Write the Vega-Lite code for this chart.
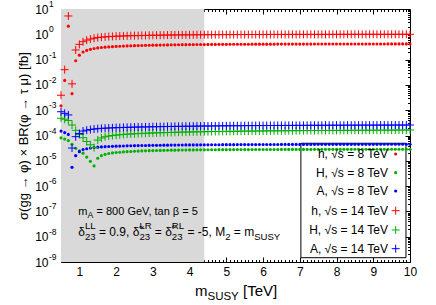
{
"$schema":"https://vega.github.io/schema/vega-lite/v6.json",
"width":349,"height":253,
"autosize":{"type":"none"},
"padding":{"left":61,"top":9,"right":26,"bottom":43},
"config":{"font":"Liberation Sans","view":{"stroke":"black","strokeWidth":1},
"axis":{"domain":false,"grid":false,"tickColor":"black","tickWidth":1,"labelColor":"black","labelFontSize":12,"labelFlush":false,"labelOverlap":false,"titleFontWeight":"normal","titleColor":"black"}},
"data":{"values":[{}]},
"datasets":{
"exps":[{"t":10,"e":"1"},{"t":1,"e":"0"},{"t":0.1,"e":"-1"},{"t":0.01,"e":"-2"},{"t":0.001,"e":"-3"},{"t":1e-4,"e":"-4"},{"t":1e-5,"e":"-5"},{"t":1e-6,"e":"-6"},{"t":1e-7,"e":"-7"},{"t":1e-8,"e":"-8"},{"t":1e-9,"e":"-9"}],
"d8":[
{"m":0.5,"s":"h8","v":0.0015},{"m":0.6,"s":"h8","v":0.015},{"m":0.7,"s":"h8","v":2.1},{"m":0.8,"s":"h8","v":0.0045},{"m":0.9,"s":"h8","v":0.09},{"m":1.0,"s":"h8","v":0.15},{"m":1.1,"s":"h8","v":0.2},{"m":1.2,"s":"h8","v":0.23},{"m":1.3,"s":"h8","v":0.255},{"m":1.4,"s":"h8","v":0.275},{"m":1.5,"s":"h8","v":0.29},{"m":1.6,"s":"h8","v":0.3},{"m":1.7,"s":"h8","v":0.31},{"m":1.8,"s":"h8","v":0.318},{"m":1.9,"s":"h8","v":0.325},{"m":2.0,"s":"h8","v":0.331},{"m":2.1,"s":"h8","v":0.337},{"m":2.2,"s":"h8","v":0.342},{"m":2.3,"s":"h8","v":0.347},{"m":2.4,"s":"h8","v":0.351},{"m":2.5,"s":"h8","v":0.355},{"m":2.6,"s":"h8","v":0.359},{"m":2.7,"s":"h8","v":0.362},{"m":2.8,"s":"h8","v":0.365},{"m":2.9,"s":"h8","v":0.368},{"m":3.0,"s":"h8","v":0.371},{"m":3.1,"s":"h8","v":0.373},{"m":3.2,"s":"h8","v":0.376},{"m":3.3,"s":"h8","v":0.378},{"m":3.4,"s":"h8","v":0.38},{"m":3.5,"s":"h8","v":0.382},{"m":3.6,"s":"h8","v":0.384},{"m":3.7,"s":"h8","v":0.386},{"m":3.8,"s":"h8","v":0.388},{"m":3.9,"s":"h8","v":0.389},{"m":4.0,"s":"h8","v":0.391},{"m":4.1,"s":"h8","v":0.392},{"m":4.2,"s":"h8","v":0.394},{"m":4.3,"s":"h8","v":0.395},{"m":4.4,"s":"h8","v":0.396},{"m":4.5,"s":"h8","v":0.397},{"m":4.6,"s":"h8","v":0.398},{"m":4.7,"s":"h8","v":0.399},{"m":4.8,"s":"h8","v":0.4},{"m":4.9,"s":"h8","v":0.401},{"m":5.0,"s":"h8","v":0.402},{"m":5.1,"s":"h8","v":0.403},{"m":5.2,"s":"h8","v":0.403},{"m":5.3,"s":"h8","v":0.404},{"m":5.4,"s":"h8","v":0.404},{"m":5.5,"s":"h8","v":0.405},{"m":5.6,"s":"h8","v":0.405},{"m":5.7,"s":"h8","v":0.406},{"m":5.8,"s":"h8","v":0.406},{"m":5.9,"s":"h8","v":0.407},{"m":6.0,"s":"h8","v":0.407},{"m":6.1,"s":"h8","v":0.408},{"m":6.2,"s":"h8","v":0.408},{"m":6.3,"s":"h8","v":0.408},{"m":6.4,"s":"h8","v":0.409},{"m":6.5,"s":"h8","v":0.409},{"m":6.6,"s":"h8","v":0.409},{"m":6.7,"s":"h8","v":0.41},{"m":6.8,"s":"h8","v":0.41},{"m":6.9,"s":"h8","v":0.41},{"m":7.0,"s":"h8","v":0.411},{"m":7.1,"s":"h8","v":0.411},{"m":7.2,"s":"h8","v":0.411},{"m":7.3,"s":"h8","v":0.411},{"m":7.4,"s":"h8","v":0.412},{"m":7.5,"s":"h8","v":0.412},{"m":7.6,"s":"h8","v":0.412},{"m":7.7,"s":"h8","v":0.412},{"m":7.8,"s":"h8","v":0.413},{"m":7.9,"s":"h8","v":0.413},{"m":8.0,"s":"h8","v":0.413},{"m":8.1,"s":"h8","v":0.413},{"m":8.2,"s":"h8","v":0.413},{"m":8.3,"s":"h8","v":0.414},{"m":8.4,"s":"h8","v":0.414},{"m":8.5,"s":"h8","v":0.414},{"m":8.6,"s":"h8","v":0.414},{"m":8.7,"s":"h8","v":0.414},{"m":8.8,"s":"h8","v":0.415},{"m":8.9,"s":"h8","v":0.415},{"m":9.0,"s":"h8","v":0.415},{"m":9.1,"s":"h8","v":0.415},{"m":9.2,"s":"h8","v":0.415},{"m":9.3,"s":"h8","v":0.415},{"m":9.4,"s":"h8","v":0.416},{"m":9.5,"s":"h8","v":0.416},{"m":9.6,"s":"h8","v":0.416},{"m":9.7,"s":"h8","v":0.416},{"m":9.8,"s":"h8","v":0.416},{"m":9.9,"s":"h8","v":0.416},{"m":10.0,"s":"h8","v":0.417},
{"m":0.5,"s":"H8","v":8.0e-5},{"m":0.6,"s":"H8","v":7.2e-5},{"m":0.7,"s":"H8","v":6.3e-5},{"m":0.8,"s":"H8","v":4.5e-5},{"m":0.9,"s":"H8","v":3.1e-5},{"m":1.0,"s":"H8","v":2.5e-5},{"m":1.1,"s":"H8","v":2.0e-5},{"m":1.2,"s":"H8","v":1.4e-5},{"m":1.3,"s":"H8","v":9.5e-6},{"m":1.4,"s":"H8","v":6.3e-6},{"m":1.5,"s":"H8","v":1.26e-5},{"m":1.6,"s":"H8","v":1.6e-5},{"m":1.7,"s":"H8","v":1.8e-5},{"m":1.8,"s":"H8","v":1.95e-5},{"m":1.9,"s":"H8","v":2.05e-5},{"m":2.0,"s":"H8","v":2.12e-5},{"m":2.1,"s":"H8","v":2.18e-5},{"m":2.2,"s":"H8","v":2.24e-5},{"m":2.3,"s":"H8","v":2.29e-5},{"m":2.4,"s":"H8","v":2.34e-5},{"m":2.5,"s":"H8","v":2.38e-5},{"m":2.6,"s":"H8","v":2.42e-5},{"m":2.7,"s":"H8","v":2.45e-5},{"m":2.8,"s":"H8","v":2.48e-5},{"m":2.9,"s":"H8","v":2.51e-5},{"m":3.0,"s":"H8","v":2.53e-5},{"m":3.1,"s":"H8","v":2.55e-5},{"m":3.2,"s":"H8","v":2.57e-5},{"m":3.3,"s":"H8","v":2.59e-5},{"m":3.4,"s":"H8","v":2.61e-5},{"m":3.5,"s":"H8","v":2.63e-5},{"m":3.6,"s":"H8","v":2.64e-5},{"m":3.7,"s":"H8","v":2.66e-5},{"m":3.8,"s":"H8","v":2.67e-5},{"m":3.9,"s":"H8","v":2.68e-5},{"m":4.0,"s":"H8","v":2.69e-5},{"m":4.1,"s":"H8","v":2.7e-5},{"m":4.2,"s":"H8","v":2.71e-5},{"m":4.3,"s":"H8","v":2.72e-5},{"m":4.4,"s":"H8","v":2.72e-5},{"m":4.5,"s":"H8","v":2.73e-5},{"m":4.6,"s":"H8","v":2.74e-5},{"m":4.7,"s":"H8","v":2.74e-5},{"m":4.8,"s":"H8","v":2.75e-5},{"m":4.9,"s":"H8","v":2.75e-5},{"m":5.0,"s":"H8","v":2.76e-5},{"m":5.1,"s":"H8","v":2.76e-5},{"m":5.2,"s":"H8","v":2.77e-5},{"m":5.3,"s":"H8","v":2.77e-5},{"m":5.4,"s":"H8","v":2.77e-5},{"m":5.5,"s":"H8","v":2.78e-5},{"m":5.6,"s":"H8","v":2.78e-5},{"m":5.7,"s":"H8","v":2.78e-5},{"m":5.8,"s":"H8","v":2.79e-5},{"m":5.9,"s":"H8","v":2.79e-5},{"m":6.0,"s":"H8","v":2.79e-5},{"m":6.1,"s":"H8","v":2.8e-5},{"m":6.2,"s":"H8","v":2.8e-5},{"m":6.3,"s":"H8","v":2.8e-5},{"m":6.4,"s":"H8","v":2.8e-5},{"m":6.5,"s":"H8","v":2.81e-5},{"m":6.6,"s":"H8","v":2.81e-5},{"m":6.7,"s":"H8","v":2.81e-5},{"m":6.8,"s":"H8","v":2.81e-5},{"m":6.9,"s":"H8","v":2.82e-5},{"m":7.0,"s":"H8","v":2.82e-5},{"m":7.1,"s":"H8","v":2.82e-5},{"m":7.2,"s":"H8","v":2.82e-5},{"m":7.3,"s":"H8","v":2.82e-5},{"m":7.4,"s":"H8","v":2.83e-5},{"m":7.5,"s":"H8","v":2.83e-5},{"m":7.6,"s":"H8","v":2.83e-5},{"m":7.7,"s":"H8","v":2.83e-5},{"m":7.8,"s":"H8","v":2.83e-5},{"m":7.9,"s":"H8","v":2.83e-5},{"m":8.0,"s":"H8","v":2.84e-5},{"m":8.1,"s":"H8","v":2.84e-5},{"m":8.2,"s":"H8","v":2.84e-5},{"m":8.3,"s":"H8","v":2.84e-5},{"m":8.4,"s":"H8","v":2.84e-5},{"m":8.5,"s":"H8","v":2.85e-5},{"m":8.6,"s":"H8","v":2.85e-5},{"m":8.7,"s":"H8","v":2.85e-5},{"m":8.8,"s":"H8","v":2.85e-5},{"m":8.9,"s":"H8","v":2.85e-5},{"m":9.0,"s":"H8","v":2.85e-5},{"m":9.1,"s":"H8","v":2.85e-5},{"m":9.2,"s":"H8","v":2.86e-5},{"m":9.3,"s":"H8","v":2.86e-5},{"m":9.4,"s":"H8","v":2.86e-5},{"m":9.5,"s":"H8","v":2.86e-5},{"m":9.6,"s":"H8","v":2.86e-5},{"m":9.7,"s":"H8","v":2.86e-5},{"m":9.8,"s":"H8","v":2.86e-5},{"m":9.9,"s":"H8","v":2.86e-5},{"m":10.0,"s":"H8","v":2.87e-5},
{"m":0.5,"s":"A8","v":1.5e-4},{"m":0.6,"s":"A8","v":1.3e-4},{"m":0.7,"s":"A8","v":1.1e-4},{"m":0.8,"s":"A8","v":5.5e-6},{"m":0.9,"s":"A8","v":1.6e-5},{"m":1.0,"s":"A8","v":2.3e-5},{"m":1.1,"s":"A8","v":2.8e-5},{"m":1.2,"s":"A8","v":3.0e-5},{"m":1.3,"s":"A8","v":3.2e-5},{"m":1.4,"s":"A8","v":3.35e-5},{"m":1.5,"s":"A8","v":3.45e-5},{"m":1.6,"s":"A8","v":3.55e-5},{"m":1.7,"s":"A8","v":3.62e-5},{"m":1.8,"s":"A8","v":3.68e-5},{"m":1.9,"s":"A8","v":3.73e-5},{"m":2.0,"s":"A8","v":3.78e-5},{"m":2.1,"s":"A8","v":3.82e-5},{"m":2.2,"s":"A8","v":3.86e-5},{"m":2.3,"s":"A8","v":3.9e-5},{"m":2.4,"s":"A8","v":3.93e-5},{"m":2.5,"s":"A8","v":3.96e-5},{"m":2.6,"s":"A8","v":3.99e-5},{"m":2.7,"s":"A8","v":4.02e-5},{"m":2.8,"s":"A8","v":4.04e-5},{"m":2.9,"s":"A8","v":4.06e-5},{"m":3.0,"s":"A8","v":4.08e-5},{"m":3.1,"s":"A8","v":4.1e-5},{"m":3.2,"s":"A8","v":4.12e-5},{"m":3.3,"s":"A8","v":4.14e-5},{"m":3.4,"s":"A8","v":4.16e-5},{"m":3.5,"s":"A8","v":4.17e-5},{"m":3.6,"s":"A8","v":4.19e-5},{"m":3.7,"s":"A8","v":4.2e-5},{"m":3.8,"s":"A8","v":4.22e-5},{"m":3.9,"s":"A8","v":4.23e-5},{"m":4.0,"s":"A8","v":4.24e-5},{"m":4.1,"s":"A8","v":4.25e-5},{"m":4.2,"s":"A8","v":4.26e-5},{"m":4.3,"s":"A8","v":4.27e-5},{"m":4.4,"s":"A8","v":4.28e-5},{"m":4.5,"s":"A8","v":4.29e-5},{"m":4.6,"s":"A8","v":4.3e-5},{"m":4.7,"s":"A8","v":4.31e-5},{"m":4.8,"s":"A8","v":4.32e-5},{"m":4.9,"s":"A8","v":4.33e-5},{"m":5.0,"s":"A8","v":4.34e-5},{"m":5.1,"s":"A8","v":4.35e-5},{"m":5.2,"s":"A8","v":4.35e-5},{"m":5.3,"s":"A8","v":4.36e-5},{"m":5.4,"s":"A8","v":4.37e-5},{"m":5.5,"s":"A8","v":4.37e-5},{"m":5.6,"s":"A8","v":4.38e-5},{"m":5.7,"s":"A8","v":4.39e-5},{"m":5.8,"s":"A8","v":4.39e-5},{"m":5.9,"s":"A8","v":4.4e-5},{"m":6.0,"s":"A8","v":4.4e-5},{"m":6.1,"s":"A8","v":4.41e-5},{"m":6.2,"s":"A8","v":4.41e-5},{"m":6.3,"s":"A8","v":4.42e-5},{"m":6.4,"s":"A8","v":4.42e-5},{"m":6.5,"s":"A8","v":4.43e-5},{"m":6.6,"s":"A8","v":4.43e-5},{"m":6.7,"s":"A8","v":4.43e-5},{"m":6.8,"s":"A8","v":4.44e-5},{"m":6.9,"s":"A8","v":4.44e-5},{"m":7.0,"s":"A8","v":4.44e-5},{"m":7.1,"s":"A8","v":4.45e-5},{"m":7.2,"s":"A8","v":4.45e-5},{"m":7.3,"s":"A8","v":4.45e-5},{"m":7.4,"s":"A8","v":4.46e-5},{"m":7.5,"s":"A8","v":4.46e-5},{"m":7.6,"s":"A8","v":4.46e-5},{"m":7.7,"s":"A8","v":4.46e-5},{"m":7.8,"s":"A8","v":4.47e-5},{"m":7.9,"s":"A8","v":4.47e-5},{"m":8.0,"s":"A8","v":4.47e-5},{"m":8.1,"s":"A8","v":4.47e-5},{"m":8.2,"s":"A8","v":4.48e-5},{"m":8.3,"s":"A8","v":4.48e-5},{"m":8.4,"s":"A8","v":4.48e-5},{"m":8.5,"s":"A8","v":4.48e-5},{"m":8.6,"s":"A8","v":4.48e-5},{"m":8.7,"s":"A8","v":4.49e-5},{"m":8.8,"s":"A8","v":4.49e-5},{"m":8.9,"s":"A8","v":4.49e-5},{"m":9.0,"s":"A8","v":4.49e-5},{"m":9.1,"s":"A8","v":4.49e-5},{"m":9.2,"s":"A8","v":4.5e-5},{"m":9.3,"s":"A8","v":4.5e-5},{"m":9.4,"s":"A8","v":4.5e-5},{"m":9.5,"s":"A8","v":4.5e-5},{"m":9.6,"s":"A8","v":4.5e-5},{"m":9.7,"s":"A8","v":4.5e-5},{"m":9.8,"s":"A8","v":4.51e-5},{"m":9.9,"s":"A8","v":4.51e-5},{"m":10.0,"s":"A8","v":4.51e-5}
],
"d14":[
{"m":0.5,"s":"h14","v":0.0039},{"m":0.6,"s":"h14","v":0.04},{"m":0.7,"s":"h14","v":5.3},{"m":0.8,"s":"h14","v":0.011},{"m":0.9,"s":"h14","v":0.24},{"m":1.0,"s":"h14","v":0.4},{"m":1.1,"s":"h14","v":0.51},{"m":1.2,"s":"h14","v":0.59},{"m":1.3,"s":"h14","v":0.65},{"m":1.4,"s":"h14","v":0.7},{"m":1.5,"s":"h14","v":0.74},{"m":1.6,"s":"h14","v":0.77},{"m":1.7,"s":"h14","v":0.79},{"m":1.8,"s":"h14","v":0.81},{"m":1.9,"s":"h14","v":0.825},{"m":2.0,"s":"h14","v":0.84},{"m":2.1,"s":"h14","v":0.85},{"m":2.2,"s":"h14","v":0.86},{"m":2.3,"s":"h14","v":0.87},{"m":2.4,"s":"h14","v":0.88},{"m":2.5,"s":"h14","v":0.885},{"m":2.6,"s":"h14","v":0.89},{"m":2.7,"s":"h14","v":0.9},{"m":2.8,"s":"h14","v":0.905},{"m":2.9,"s":"h14","v":0.91},{"m":3.0,"s":"h14","v":0.915},{"m":3.1,"s":"h14","v":0.92},{"m":3.2,"s":"h14","v":0.925},{"m":3.3,"s":"h14","v":0.93},{"m":3.4,"s":"h14","v":0.935},{"m":3.5,"s":"h14","v":0.94},{"m":3.6,"s":"h14","v":0.943},{"m":3.7,"s":"h14","v":0.946},{"m":3.8,"s":"h14","v":0.949},{"m":3.9,"s":"h14","v":0.952},{"m":4.0,"s":"h14","v":0.955},{"m":4.1,"s":"h14","v":0.957},{"m":4.2,"s":"h14","v":0.959},{"m":4.3,"s":"h14","v":0.961},{"m":4.4,"s":"h14","v":0.963},{"m":4.5,"s":"h14","v":0.965},{"m":4.6,"s":"h14","v":0.967},{"m":4.7,"s":"h14","v":0.969},{"m":4.8,"s":"h14","v":0.971},{"m":4.9,"s":"h14","v":0.972},{"m":5.0,"s":"h14","v":0.974},{"m":5.1,"s":"h14","v":0.975},{"m":5.2,"s":"h14","v":0.976},{"m":5.3,"s":"h14","v":0.977},{"m":5.4,"s":"h14","v":0.978},{"m":5.5,"s":"h14","v":0.979},{"m":5.6,"s":"h14","v":0.98},{"m":5.7,"s":"h14","v":0.981},{"m":5.8,"s":"h14","v":0.982},{"m":5.9,"s":"h14","v":0.983},{"m":6.0,"s":"h14","v":0.984},{"m":6.1,"s":"h14","v":0.985},{"m":6.2,"s":"h14","v":0.986},{"m":6.3,"s":"h14","v":0.986},{"m":6.4,"s":"h14","v":0.987},{"m":6.5,"s":"h14","v":0.988},{"m":6.6,"s":"h14","v":0.988},{"m":6.7,"s":"h14","v":0.989},{"m":6.8,"s":"h14","v":0.99},{"m":6.9,"s":"h14","v":0.99},{"m":7.0,"s":"h14","v":0.991},{"m":7.1,"s":"h14","v":0.991},{"m":7.2,"s":"h14","v":0.992},{"m":7.3,"s":"h14","v":0.992},{"m":7.4,"s":"h14","v":0.993},{"m":7.5,"s":"h14","v":0.993},{"m":7.6,"s":"h14","v":0.994},{"m":7.7,"s":"h14","v":0.994},{"m":7.8,"s":"h14","v":0.995},{"m":7.9,"s":"h14","v":0.995},{"m":8.0,"s":"h14","v":0.996},{"m":8.1,"s":"h14","v":0.996},{"m":8.2,"s":"h14","v":0.996},{"m":8.3,"s":"h14","v":0.997},{"m":8.4,"s":"h14","v":0.997},{"m":8.5,"s":"h14","v":0.997},{"m":8.6,"s":"h14","v":0.998},{"m":8.7,"s":"h14","v":0.998},{"m":8.8,"s":"h14","v":0.998},{"m":8.9,"s":"h14","v":0.999},{"m":9.0,"s":"h14","v":0.999},{"m":9.1,"s":"h14","v":0.999},{"m":9.2,"s":"h14","v":1.0},{"m":9.3,"s":"h14","v":1.0},{"m":9.4,"s":"h14","v":1.0},{"m":9.5,"s":"h14","v":1.0},{"m":9.6,"s":"h14","v":1.001},{"m":9.7,"s":"h14","v":1.001},{"m":9.8,"s":"h14","v":1.001},{"m":9.9,"s":"h14","v":1.002},{"m":10.0,"s":"h14","v":1.002},
{"m":0.5,"s":"H14","v":4.8e-4},{"m":0.6,"s":"H14","v":4.4e-4},{"m":0.7,"s":"H14","v":3.9e-4},{"m":0.8,"s":"H14","v":2.6e-4},{"m":0.9,"s":"H14","v":1.6e-4},{"m":1.0,"s":"H14","v":1.1e-4},{"m":1.1,"s":"H14","v":8.2e-5},{"m":1.2,"s":"H14","v":5.8e-5},{"m":1.3,"s":"H14","v":4.3e-5},{"m":1.4,"s":"H14","v":3.3e-5},{"m":1.5,"s":"H14","v":6.6e-5},{"m":1.6,"s":"H14","v":8.0e-5},{"m":1.7,"s":"H14","v":8.9e-5},{"m":1.8,"s":"H14","v":9.5e-5},{"m":1.9,"s":"H14","v":1.0e-4},{"m":2.0,"s":"H14","v":1.04e-4},{"m":2.1,"s":"H14","v":1.07e-4},{"m":2.2,"s":"H14","v":1.1e-4},{"m":2.3,"s":"H14","v":1.13e-4},{"m":2.4,"s":"H14","v":1.15e-4},{"m":2.5,"s":"H14","v":1.17e-4},{"m":2.6,"s":"H14","v":1.19e-4},{"m":2.7,"s":"H14","v":1.21e-4},{"m":2.8,"s":"H14","v":1.23e-4},{"m":2.9,"s":"H14","v":1.24e-4},{"m":3.0,"s":"H14","v":1.26e-4},{"m":3.1,"s":"H14","v":1.27e-4},{"m":3.2,"s":"H14","v":1.29e-4},{"m":3.3,"s":"H14","v":1.3e-4},{"m":3.4,"s":"H14","v":1.31e-4},{"m":3.5,"s":"H14","v":1.32e-4},{"m":3.6,"s":"H14","v":1.34e-4},{"m":3.7,"s":"H14","v":1.35e-4},{"m":3.8,"s":"H14","v":1.36e-4},{"m":3.9,"s":"H14","v":1.37e-4},{"m":4.0,"s":"H14","v":1.38e-4},{"m":4.1,"s":"H14","v":1.39e-4},{"m":4.2,"s":"H14","v":1.4e-4},{"m":4.3,"s":"H14","v":1.41e-4},{"m":4.4,"s":"H14","v":1.41e-4},{"m":4.5,"s":"H14","v":1.42e-4},{"m":4.6,"s":"H14","v":1.43e-4},{"m":4.7,"s":"H14","v":1.44e-4},{"m":4.8,"s":"H14","v":1.44e-4},{"m":4.9,"s":"H14","v":1.45e-4},{"m":5.0,"s":"H14","v":1.46e-4},{"m":5.1,"s":"H14","v":1.46e-4},{"m":5.2,"s":"H14","v":1.47e-4},{"m":5.3,"s":"H14","v":1.48e-4},{"m":5.4,"s":"H14","v":1.48e-4},{"m":5.5,"s":"H14","v":1.49e-4},{"m":5.6,"s":"H14","v":1.49e-4},{"m":5.7,"s":"H14","v":1.5e-4},{"m":5.8,"s":"H14","v":1.5e-4},{"m":5.9,"s":"H14","v":1.51e-4},{"m":6.0,"s":"H14","v":1.51e-4},{"m":6.1,"s":"H14","v":1.52e-4},{"m":6.2,"s":"H14","v":1.52e-4},{"m":6.3,"s":"H14","v":1.53e-4},{"m":6.4,"s":"H14","v":1.53e-4},{"m":6.5,"s":"H14","v":1.54e-4},{"m":6.6,"s":"H14","v":1.54e-4},{"m":6.7,"s":"H14","v":1.55e-4},{"m":6.8,"s":"H14","v":1.55e-4},{"m":6.9,"s":"H14","v":1.55e-4},{"m":7.0,"s":"H14","v":1.56e-4},{"m":7.1,"s":"H14","v":1.56e-4},{"m":7.2,"s":"H14","v":1.57e-4},{"m":7.3,"s":"H14","v":1.57e-4},{"m":7.4,"s":"H14","v":1.57e-4},{"m":7.5,"s":"H14","v":1.58e-4},{"m":7.6,"s":"H14","v":1.58e-4},{"m":7.7,"s":"H14","v":1.58e-4},{"m":7.8,"s":"H14","v":1.59e-4},{"m":7.9,"s":"H14","v":1.59e-4},{"m":8.0,"s":"H14","v":1.59e-4},{"m":8.1,"s":"H14","v":1.6e-4},{"m":8.2,"s":"H14","v":1.6e-4},{"m":8.3,"s":"H14","v":1.6e-4},{"m":8.4,"s":"H14","v":1.61e-4},{"m":8.5,"s":"H14","v":1.61e-4},{"m":8.6,"s":"H14","v":1.61e-4},{"m":8.7,"s":"H14","v":1.61e-4},{"m":8.8,"s":"H14","v":1.62e-4},{"m":8.9,"s":"H14","v":1.62e-4},{"m":9.0,"s":"H14","v":1.62e-4},{"m":9.1,"s":"H14","v":1.62e-4},{"m":9.2,"s":"H14","v":1.63e-4},{"m":9.3,"s":"H14","v":1.63e-4},{"m":9.4,"s":"H14","v":1.63e-4},{"m":9.5,"s":"H14","v":1.63e-4},{"m":9.6,"s":"H14","v":1.64e-4},{"m":9.7,"s":"H14","v":1.64e-4},{"m":9.8,"s":"H14","v":1.64e-4},{"m":9.9,"s":"H14","v":1.64e-4},{"m":10.0,"s":"H14","v":1.65e-4},
{"m":0.5,"s":"A14","v":8.7e-4},{"m":0.6,"s":"A14","v":7.5e-4},{"m":0.7,"s":"A14","v":6.5e-4},{"m":0.8,"s":"A14","v":3.2e-5},{"m":0.9,"s":"A14","v":9.0e-5},{"m":1.0,"s":"A14","v":1.2e-4},{"m":1.1,"s":"A14","v":1.5e-4},{"m":1.2,"s":"A14","v":1.62e-4},{"m":1.3,"s":"A14","v":1.72e-4},{"m":1.4,"s":"A14","v":1.8e-4},{"m":1.5,"s":"A14","v":1.86e-4},{"m":1.6,"s":"A14","v":1.91e-4},{"m":1.7,"s":"A14","v":1.95e-4},{"m":1.8,"s":"A14","v":1.98e-4},{"m":1.9,"s":"A14","v":2.01e-4},{"m":2.0,"s":"A14","v":2.04e-4},{"m":2.1,"s":"A14","v":2.06e-4},{"m":2.2,"s":"A14","v":2.08e-4},{"m":2.3,"s":"A14","v":2.1e-4},{"m":2.4,"s":"A14","v":2.12e-4},{"m":2.5,"s":"A14","v":2.14e-4},{"m":2.6,"s":"A14","v":2.16e-4},{"m":2.7,"s":"A14","v":2.17e-4},{"m":2.8,"s":"A14","v":2.19e-4},{"m":2.9,"s":"A14","v":2.2e-4},{"m":3.0,"s":"A14","v":2.22e-4},{"m":3.1,"s":"A14","v":2.23e-4},{"m":3.2,"s":"A14","v":2.24e-4},{"m":3.3,"s":"A14","v":2.25e-4},{"m":3.4,"s":"A14","v":2.27e-4},{"m":3.5,"s":"A14","v":2.28e-4},{"m":3.6,"s":"A14","v":2.29e-4},{"m":3.7,"s":"A14","v":2.3e-4},{"m":3.8,"s":"A14","v":2.31e-4},{"m":3.9,"s":"A14","v":2.32e-4},{"m":4.0,"s":"A14","v":2.33e-4},{"m":4.1,"s":"A14","v":2.34e-4},{"m":4.2,"s":"A14","v":2.35e-4},{"m":4.3,"s":"A14","v":2.36e-4},{"m":4.4,"s":"A14","v":2.37e-4},{"m":4.5,"s":"A14","v":2.38e-4},{"m":4.6,"s":"A14","v":2.38e-4},{"m":4.7,"s":"A14","v":2.39e-4},{"m":4.8,"s":"A14","v":2.4e-4},{"m":4.9,"s":"A14","v":2.41e-4},{"m":5.0,"s":"A14","v":2.41e-4},{"m":5.1,"s":"A14","v":2.42e-4},{"m":5.2,"s":"A14","v":2.43e-4},{"m":5.3,"s":"A14","v":2.43e-4},{"m":5.4,"s":"A14","v":2.44e-4},{"m":5.5,"s":"A14","v":2.45e-4},{"m":5.6,"s":"A14","v":2.45e-4},{"m":5.7,"s":"A14","v":2.46e-4},{"m":5.8,"s":"A14","v":2.46e-4},{"m":5.9,"s":"A14","v":2.47e-4},{"m":6.0,"s":"A14","v":2.47e-4},{"m":6.1,"s":"A14","v":2.48e-4},{"m":6.2,"s":"A14","v":2.48e-4},{"m":6.3,"s":"A14","v":2.49e-4},{"m":6.4,"s":"A14","v":2.49e-4},{"m":6.5,"s":"A14","v":2.5e-4},{"m":6.6,"s":"A14","v":2.5e-4},{"m":6.7,"s":"A14","v":2.5e-4},{"m":6.8,"s":"A14","v":2.51e-4},{"m":6.9,"s":"A14","v":2.51e-4},{"m":7.0,"s":"A14","v":2.52e-4},{"m":7.1,"s":"A14","v":2.52e-4},{"m":7.2,"s":"A14","v":2.52e-4},{"m":7.3,"s":"A14","v":2.53e-4},{"m":7.4,"s":"A14","v":2.53e-4},{"m":7.5,"s":"A14","v":2.53e-4},{"m":7.6,"s":"A14","v":2.54e-4},{"m":7.7,"s":"A14","v":2.54e-4},{"m":7.8,"s":"A14","v":2.54e-4},{"m":7.9,"s":"A14","v":2.55e-4},{"m":8.0,"s":"A14","v":2.55e-4},{"m":8.1,"s":"A14","v":2.55e-4},{"m":8.2,"s":"A14","v":2.55e-4},{"m":8.3,"s":"A14","v":2.56e-4},{"m":8.4,"s":"A14","v":2.56e-4},{"m":8.5,"s":"A14","v":2.56e-4},{"m":8.6,"s":"A14","v":2.56e-4},{"m":8.7,"s":"A14","v":2.57e-4},{"m":8.8,"s":"A14","v":2.57e-4},{"m":8.9,"s":"A14","v":2.57e-4},{"m":9.0,"s":"A14","v":2.57e-4},{"m":9.1,"s":"A14","v":2.58e-4},{"m":9.2,"s":"A14","v":2.58e-4},{"m":9.3,"s":"A14","v":2.58e-4},{"m":9.4,"s":"A14","v":2.58e-4},{"m":9.5,"s":"A14","v":2.58e-4},{"m":9.6,"s":"A14","v":2.59e-4},{"m":9.7,"s":"A14","v":2.59e-4},{"m":9.8,"s":"A14","v":2.59e-4},{"m":9.9,"s":"A14","v":2.59e-4},{"m":10.0,"s":"A14","v":2.6e-4}
]
},
"layer":[
{"mark":{"type":"rect","color":"#d9d9d9"},
 "encoding":{
  "x":{"datum":0.5,"type":"quantitative","scale":{"domain":[0.5,10],"nice":false,"zero":false},"axis":{"orient":"bottom","values":[1,2,3,4,5,6,7,8,9,10],"tickSize":-5,"labelPadding":9,"title":null}},
  "x2":{"datum":4.4},
  "y":{"datum":1e-9,"type":"quantitative","scale":{"type":"log","domain":[1e-9,10],"nice":false},"axis":{"orient":"left","values":[1e-9,1e-8,1e-7,1e-6,1e-5,1e-4,0.001,0.01,0.1,1,10],"tickSize":-5,"labelExpr":"'10'","labelPadding":18,"title":"σ(gg → φ) × BR(φ → τ μ) [fb]","titleFontSize":13,"titleX":-38,"titleY":126.5,"titleAngle":-90,"titleAlign":"center","titleBaseline":"middle"}},
  "y2":{"datum":10}}},
{"mark":{"type":"rect","fill":"white","stroke":"black","strokeWidth":1},
 "encoding":{
  "x":{"datum":7.03,"type":"quantitative","axis":{"orient":"bottom","values":[0.6,0.7,0.8,0.9,1.1,1.2,1.3,1.4,1.5,1.6,1.7,1.8,1.9,2.1,2.2,2.3,2.4,2.5,2.6,2.7,2.8,2.9,3.1,3.2,3.3,3.4,3.5,3.6,3.7,3.8,3.9,4.1,4.2,4.3,4.4,4.5,4.6,4.7,4.8,4.9,5.1,5.2,5.3,5.4,5.5,5.6,5.7,5.8,5.9,6.1,6.2,6.3,6.4,6.5,6.6,6.7,6.8,6.9,7.1,7.2,7.3,7.4,7.5,7.6,7.7,7.8,7.9,8.1,8.2,8.3,8.4,8.5,8.6,8.7,8.8,8.9,9.1,9.2,9.3,9.4,9.5,9.6,9.7,9.8,9.9],"tickSize":-2.5,"labels":false,"title":null}},
  "x2":{"datum":9.89},
  "y":{"datum":1.48e-9,"type":"quantitative","axis":{"orient":"left","values":[2e-9,3e-9,4e-9,5e-9,6e-9,7e-9,8e-9,9e-9,2e-8,3e-8,4e-8,5e-8,6e-8,7e-8,8e-8,9e-8,2e-7,3e-7,4e-7,5e-7,6e-7,7e-7,8e-7,9e-7,2e-6,3e-6,4e-6,5e-6,6e-6,7e-6,8e-6,9e-6,2e-5,3e-5,4e-5,5e-5,6e-5,7e-5,8e-5,9e-5,2e-4,3e-4,4e-4,5e-4,6e-4,7e-4,8e-4,9e-4,0.002,0.003,0.004,0.005,0.006,0.007,0.008,0.009,0.02,0.03,0.04,0.05,0.06,0.07,0.08,0.09,0.2,0.3,0.4,0.5,0.6,0.7,0.8,0.9,2,3,4,5,6,7,8,9],"tickSize":-2.5,"labels":false,"title":null}},
  "y2":{"datum":4.92e-5}}},
{"data":{"name":"d8"},
 "mark":{"type":"point","shape":"circle","filled":true,"size":10,"opacity":1},
 "encoding":{
  "x":{"field":"m","type":"quantitative","axis":{"orient":"top","values":[1,2,3,4,5,6,7,8,9],"tickSize":-5,"labels":false,"title":null}},
  "y":{"field":"v","type":"quantitative","axis":{"orient":"right","values":[1e-8,1e-7,1e-6,1e-5,1e-4,0.001,0.01,0.1,1],"tickSize":-5,"labels":false,"title":null}},
  "color":{"field":"s","type":"nominal","scale":{"domain":["h8","H8","A8","h14","H14","A14"],"range":["#ff0000","#00b000","#0000ff","#ff0000","#00b000","#0000ff"]},"legend":null}}},
{"data":{"name":"d14"},
 "mark":{"type":"point","shape":"M-1,0L1,0M0,-1L0,1","filled":false,"size":64,"strokeWidth":1,"opacity":1},
 "encoding":{
  "x":{"field":"m","type":"quantitative","axis":{"orient":"top","values":[0.6,0.7,0.8,0.9,1.1,1.2,1.3,1.4,1.5,1.6,1.7,1.8,1.9,2.1,2.2,2.3,2.4,2.5,2.6,2.7,2.8,2.9,3.1,3.2,3.3,3.4,3.5,3.6,3.7,3.8,3.9,4.1,4.2,4.3,4.4,4.5,4.6,4.7,4.8,4.9,5.1,5.2,5.3,5.4,5.5,5.6,5.7,5.8,5.9,6.1,6.2,6.3,6.4,6.5,6.6,6.7,6.8,6.9,7.1,7.2,7.3,7.4,7.5,7.6,7.7,7.8,7.9,8.1,8.2,8.3,8.4,8.5,8.6,8.7,8.8,8.9,9.1,9.2,9.3,9.4,9.5,9.6,9.7,9.8,9.9],"tickSize":-2.5,"labels":false,"title":null}},
  "y":{"field":"v","type":"quantitative","axis":{"orient":"right","values":[2e-9,3e-9,4e-9,5e-9,6e-9,7e-9,8e-9,9e-9,2e-8,3e-8,4e-8,5e-8,6e-8,7e-8,8e-8,9e-8,2e-7,3e-7,4e-7,5e-7,6e-7,7e-7,8e-7,9e-7,2e-6,3e-6,4e-6,5e-6,6e-6,7e-6,8e-6,9e-6,2e-5,3e-5,4e-5,5e-5,6e-5,7e-5,8e-5,9e-5,2e-4,3e-4,4e-4,5e-4,6e-4,7e-4,8e-4,9e-4,0.002,0.003,0.004,0.005,0.006,0.007,0.008,0.009,0.02,0.03,0.04,0.05,0.06,0.07,0.08,0.09,0.2,0.3,0.4,0.5,0.6,0.7,0.8,0.9,2,3,4,5,6,7,8,9],"tickSize":-2.5,"labels":false,"title":null}},
  "color":{"field":"s","type":"nominal","legend":null}}},
{"data":{"name":"exps"},
 "mark":{"type":"text","align":"left","baseline":"middle","dx":-12,"dy":-5,"fontSize":8.5,"color":"black"},
 "encoding":{"x":{"datum":0.5,"axis":null},"y":{"field":"t","type":"quantitative","axis":null},"text":{"field":"e"}}},
{"mark":{"type":"text","text":"h, √s = 8 TeV","align":"right","baseline":"middle","fontSize":12,"color":"black"},"encoding":{"x":{"datum":9.4,"axis":null},"y":{"datum":1.86e-5,"axis":null}}},
{"mark":{"type":"text","text":"H, √s = 8 TeV","align":"right","baseline":"middle","fontSize":12,"color":"black"},"encoding":{"x":{"datum":9.4,"axis":null},"y":{"datum":3.39e-6,"axis":null}}},
{"mark":{"type":"text","text":"A, √s = 8 TeV","align":"right","baseline":"middle","fontSize":12,"color":"black"},"encoding":{"x":{"datum":9.4,"axis":null},"y":{"datum":6.4e-7,"axis":null}}},
{"mark":{"type":"text","text":"h, √s = 14 TeV","align":"right","baseline":"middle","fontSize":12,"color":"black"},"encoding":{"x":{"datum":9.4,"axis":null},"y":{"datum":1.07e-7,"axis":null}}},
{"mark":{"type":"text","text":"H, √s = 14 TeV","align":"right","baseline":"middle","fontSize":12,"color":"black"},"encoding":{"x":{"datum":9.4,"axis":null},"y":{"datum":1.84e-8,"axis":null}}},
{"mark":{"type":"text","text":"A, √s = 14 TeV","align":"right","baseline":"middle","fontSize":12,"color":"black"},"encoding":{"x":{"datum":9.4,"axis":null},"y":{"datum":3.36e-9,"axis":null}}},
{"mark":{"type":"point","shape":"circle","filled":true,"size":10,"opacity":1,"color":"#ff0000"},"encoding":{"x":{"datum":9.61,"axis":null},"y":{"datum":1.86e-5,"axis":null}}},
{"mark":{"type":"point","shape":"circle","filled":true,"size":10,"opacity":1,"color":"#00b000"},"encoding":{"x":{"datum":9.61,"axis":null},"y":{"datum":3.39e-6,"axis":null}}},
{"mark":{"type":"point","shape":"circle","filled":true,"size":10,"opacity":1,"color":"#0000ff"},"encoding":{"x":{"datum":9.61,"axis":null},"y":{"datum":6.4e-7,"axis":null}}},
{"mark":{"type":"point","shape":"M-1,0L1,0M0,-1L0,1","filled":false,"size":64,"strokeWidth":1,"opacity":1,"color":"#ff0000"},"encoding":{"x":{"datum":9.61,"axis":null},"y":{"datum":1.07e-7,"axis":null}}},
{"mark":{"type":"point","shape":"M-1,0L1,0M0,-1L0,1","filled":false,"size":64,"strokeWidth":1,"opacity":1,"color":"#00b000"},"encoding":{"x":{"datum":9.61,"axis":null},"y":{"datum":1.84e-8,"axis":null}}},
{"mark":{"type":"point","shape":"M-1,0L1,0M0,-1L0,1","filled":false,"size":64,"strokeWidth":1,"opacity":1,"color":"#0000ff"},"encoding":{"x":{"datum":9.61,"axis":null},"y":{"datum":3.36e-9,"axis":null}}},
{"mark":{"type":"text","text":"m","align":"left","baseline":"alphabetic","fontSize":11,"color":"black"},"encoding":{"x":{"datum":0.971,"axis":null},"y":{"datum":7.21e-8,"axis":null}}},
{"mark":{"type":"text","text":"A","align":"left","baseline":"alphabetic","fontSize":8.8,"dy":3,"color":"black"},"encoding":{"x":{"datum":1.221,"axis":null},"y":{"datum":7.21e-8,"axis":null}}},
{"mark":{"type":"text","text":"= 800 GeV, tan β = 5","align":"left","baseline":"alphabetic","fontSize":11,"color":"black"},"encoding":{"x":{"datum":1.466,"axis":null},"y":{"datum":7.21e-8,"axis":null}}},
{"mark":{"type":"text","text":"δ","align":"left","baseline":"alphabetic","fontSize":12,"color":"black"},"encoding":{"x":{"datum":0.971,"axis":null},"y":{"datum":1.067e-8,"axis":null}}},
{"mark":{"type":"text","text":"23","align":"left","baseline":"alphabetic","fontSize":9.6,"dy":4.4,"color":"black"},"encoding":{"x":{"datum":1.152,"axis":null},"y":{"datum":1.067e-8,"axis":null}}},
{"mark":{"type":"text","text":"LL","align":"left","baseline":"alphabetic","fontSize":9.6,"dy":-6.5,"color":"black"},"encoding":{"x":{"datum":1.152,"axis":null},"y":{"datum":1.067e-8,"axis":null}}},
{"mark":{"type":"text","text":"= 0.9,","align":"left","baseline":"alphabetic","fontSize":12,"color":"black"},"encoding":{"x":{"datum":1.535,"axis":null},"y":{"datum":1.067e-8,"axis":null}}},
{"mark":{"type":"text","text":"δ̃","align":"left","baseline":"alphabetic","fontSize":12,"color":"black"},"encoding":{"x":{"datum":2.453,"axis":null},"y":{"datum":1.067e-8,"axis":null}}},
{"mark":{"type":"text","text":"23","align":"left","baseline":"alphabetic","fontSize":9.6,"dy":4.4,"color":"black"},"encoding":{"x":{"datum":2.634,"axis":null},"y":{"datum":1.067e-8,"axis":null}}},
{"mark":{"type":"text","text":"LR","align":"left","baseline":"alphabetic","fontSize":9.6,"dy":-6.5,"color":"black"},"encoding":{"x":{"datum":2.634,"axis":null},"y":{"datum":1.067e-8,"axis":null}}},
{"mark":{"type":"text","text":"=","align":"left","baseline":"alphabetic","fontSize":12,"color":"black"},"encoding":{"x":{"datum":3.055,"axis":null},"y":{"datum":1.067e-8,"axis":null}}},
{"mark":{"type":"text","text":"δ̃","align":"left","baseline":"alphabetic","fontSize":12,"color":"black"},"encoding":{"x":{"datum":3.337,"axis":null},"y":{"datum":1.067e-8,"axis":null}}},
{"mark":{"type":"text","text":"23","align":"left","baseline":"alphabetic","fontSize":9.6,"dy":4.4,"color":"black"},"encoding":{"x":{"datum":3.518,"axis":null},"y":{"datum":1.067e-8,"axis":null}}},
{"mark":{"type":"text","text":"RL","align":"left","baseline":"alphabetic","fontSize":9.6,"dy":-6.5,"color":"black"},"encoding":{"x":{"datum":3.518,"axis":null},"y":{"datum":1.067e-8,"axis":null}}},
{"mark":{"type":"text","text":"= -5, M","align":"left","baseline":"alphabetic","fontSize":12,"color":"black"},"encoding":{"x":{"datum":3.943,"axis":null},"y":{"datum":1.067e-8,"axis":null}}},
{"mark":{"type":"text","text":"2","align":"left","baseline":"alphabetic","fontSize":9.6,"dy":4.4,"color":"black"},"encoding":{"x":{"datum":4.968,"axis":null},"y":{"datum":1.067e-8,"axis":null}}},
{"mark":{"type":"text","text":"= m","align":"left","baseline":"alphabetic","fontSize":12,"color":"black"},"encoding":{"x":{"datum":5.205,"axis":null},"y":{"datum":1.067e-8,"axis":null}}},
{"mark":{"type":"text","text":"SUSY","align":"left","baseline":"alphabetic","fontSize":9.6,"dy":4.4,"color":"black"},"encoding":{"x":{"datum":5.757,"axis":null},"y":{"datum":1.067e-8,"axis":null}}},
{"mark":{"type":"text","text":"m","align":"left","baseline":"alphabetic","fontSize":15,"color":"black"},"encoding":{"x":{"datum":4.147,"axis":null},"y":{"datum":4.53e-11,"axis":null}}},
{"mark":{"type":"text","text":"SUSY","align":"left","baseline":"alphabetic","fontSize":11.5,"dy":4,"color":"black"},"encoding":{"x":{"datum":4.487,"axis":null},"y":{"datum":4.53e-11,"axis":null}}},
{"mark":{"type":"text","text":"[TeV]","align":"left","baseline":"alphabetic","fontSize":15,"color":"black"},"encoding":{"x":{"datum":5.454,"axis":null},"y":{"datum":4.53e-11,"axis":null}}}
],
"resolve":{"axis":{"x":"independent","y":"independent"}}
}
